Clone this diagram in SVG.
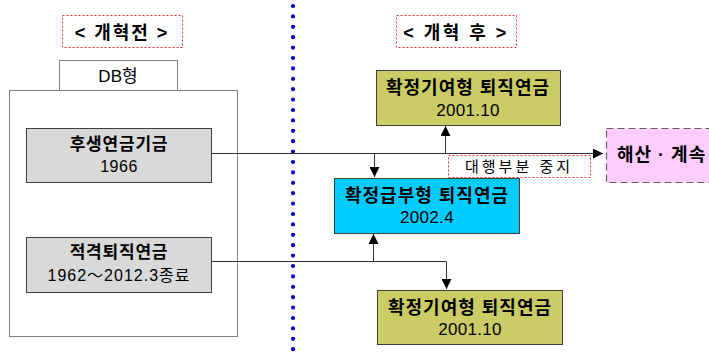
<svg xmlns="http://www.w3.org/2000/svg" width="709" height="355" viewBox="0 0 709 355">
<defs>
<marker id="ah" viewBox="0 0 10 10" refX="10" refY="5" markerWidth="10" markerHeight="10" markerUnits="userSpaceOnUse" orient="auto">
<path d="M0,0 L10,5 L0,10 z" fill="#000"/>
</marker>
<style>
text{font-family:"Liberation Sans","Noto Sans CJK KR",sans-serif;text-anchor:middle;fill:#000}
.b{font-weight:bold;font-size:18px;letter-spacing:1px}
.bg{font-weight:bold;font-size:17px;letter-spacing:0.8px}
.n{font-size:16px;letter-spacing:0.5px}
.n2{font-size:17px;letter-spacing:0.3px}
.title{fill:#fff;stroke:#e03030;stroke-width:1;stroke-dasharray:2 2}
.gray{fill:#d9d9d9;stroke:#404040;stroke-width:1}
.olive{fill:#cccc66;stroke:#404040;stroke-width:1}
.conn{fill:none;stroke:#303030;stroke-width:1}
</style>
</defs>
<rect width="709" height="355" fill="#fff"/>
<line x1="293" y1="6" x2="293" y2="352" stroke="#0000cc" stroke-width="4.2" stroke-linecap="round" stroke-dasharray="0 10.4"/>
<g id="title-before">
<rect class="title" x="62.5" y="15.5" width="120" height="32"/>
<text x="122" y="39" style="font-weight:bold;font-size:18px;letter-spacing:2px">&lt; 개혁전 &gt;</text>
</g>
<g id="title-after">
<rect class="title" x="396.5" y="15.5" width="120" height="32"/>
<text x="456" y="39" style="font-weight:bold;font-size:18px;letter-spacing:2.5px">&lt; 개혁 후 &gt;</text>
</g>
<g id="db-group">
<rect x="9.5" y="90.5" width="228" height="246" fill="#fff" stroke="#808080" stroke-width="1"/>
<rect x="59.5" y="60.5" width="118" height="30" fill="#fff" stroke="#808080" stroke-width="1"/>
<text x="118" y="82" style="font-size:17px">DB형</text>
</g>
<g id="connectors">
<path class="conn" d="M212,153.5 H603" marker-end="url(#ah)"/>
<path class="conn" d="M374.5,153 V177" marker-end="url(#ah)"/>
<path class="conn" d="M445.5,153 V126" marker-end="url(#ah)"/>
<path class="conn" d="M212,261.5 H446.5 V289" marker-end="url(#ah)"/>
<path class="conn" d="M373.5,261 V234" marker-end="url(#ah)"/>
</g>
<g id="welfare-fund">
<rect class="gray" x="26.5" y="128.5" width="185" height="54"/>
<text class="bg" x="119" y="150">후생연금기금</text>
<text class="n" x="119" y="172">1966</text>
</g>
<g id="tax-qualified">
<rect class="gray" x="26.5" y="237.5" width="185" height="55"/>
<text class="bg" x="119" y="258">적격퇴직연금</text>
<text class="n" x="119" y="281" style="letter-spacing:1px">1962～2012.3종료</text>
</g>
<g id="dc-top">
<rect class="olive" x="376.5" y="70.5" width="184" height="55"/>
<text class="b" x="468" y="94">확정기여형 퇴직연금</text>
<text class="n2" x="468" y="116">2001.10</text>
</g>
<g id="db-after">
<rect x="334.5" y="178.5" width="185" height="55" fill="#00ccff" stroke="#404040" stroke-width="1"/>
<text class="b" x="427" y="202">확정급부형 퇴직연금</text>
<text class="n2" x="427" y="223">2002.4</text>
</g>
<g id="dc-bottom">
<rect class="olive" x="377.5" y="290.5" width="185" height="54"/>
<text class="b" x="470" y="314">확정기여형 퇴직연금</text>
<text class="n2" x="470" y="335">2001.10</text>
</g>
<g id="stop-label">
<rect class="title" x="448.5" y="155.5" width="142" height="22"/>
<text x="519" y="172" style="font-size:15px;letter-spacing:3px">대행부분 중지</text>
</g>
<g id="dissolve">
<rect x="606.5" y="128.5" width="110" height="54" fill="#ffccff" stroke="#606060" stroke-width="1.2" stroke-dasharray="7 4"/>
<text x="617" y="161" style="text-anchor:start;font-weight:bold;font-size:18px;letter-spacing:1px">해산 · 계속</text>
</g>
</svg>
